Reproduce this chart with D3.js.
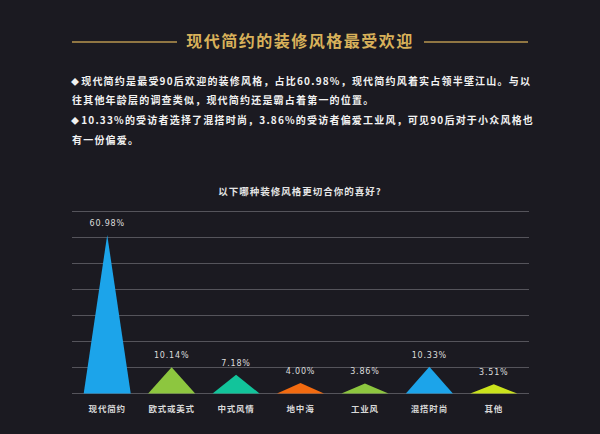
<!DOCTYPE html>
<html>
<head>
<meta charset="utf-8">
<script src="https://cdn.jsdelivr.net/npm/d3@7"></script>
<style>
  html, body { margin:0; padding:0; background:#1b1a21; }
  svg { display:block; }
</style>
</head>
<body>
<svg id="chart" width="600" height="434"></svg>
<script>
// data
var categories=["现代简约","欧式或美式","中式风情","地中海","工业风","混搭时尚","其他"];
var values=[60.98,10.14,7.18,4.00,3.86,10.33,3.51];
var barColors=["#1ca4ea","#8dc63f","#12c49b","#f26a10","#8dc63f","#1ca4ea","#cbe31c"];
var gridTicks=[0,10,20,30,40,50,60,70];

var title="现代简约的装修风格最受欢迎";
var paraLines=[
    {bullet:true, text:"现代简约是最受90后欢迎的装修风格，占比60.98%，现代简约风着实占领半壁江山。与以"},
    {bullet:false,text:"往其他年龄层的调查类似，现代简约还是霸占着第一的位置。"},
    {bullet:true, text:"10.33%的受访者选择了混搭时尚，3.86%的受访者偏爱工业风，可见90后对于小众风格也"},
    {bullet:false,text:"有一份偏爱。"}
];
var question="以下哪种装修风格更切合你的喜好?";

var svg=d3.select("#chart");
var fontCN="'Noto Sans CJK SC','Noto Sans',sans-serif";

svg.append("rect").attr("width",600).attr("height",434).attr("fill","#1b1a21");

// header
svg.append("text")
    .attr("x",300).attr("y",47)
    .style("fill","#d8b15a")
    .style("font-family",fontCN)
    .style("font-weight","bold")
    .style("font-size","16px")
    .style("letter-spacing","1.5px")
    .style("text-anchor","middle")
    .text(title);

svg.append("line").attr("x1",72).attr("x2",177).attr("y1",42).attr("y2",42)
    .attr("stroke","#b8964f").attr("stroke-width",1.3);
svg.append("line").attr("x1",424).attr("x2",528).attr("y1",42).attr("y2",42)
    .attr("stroke","#b8964f").attr("stroke-width",1.3);

// paragraph
for(var i=0; i < paraLines.length; i++ ){
    var yLine=84.5+i*19.8;
    var t=svg.append("text")
        .attr("x", paraLines[i].bullet ? 71 : 72)
        .attr("y", yLine)
        .style("fill","#f2f2f2")
        .style("font-family",fontCN)
        .style("font-weight","bold")
        .style("font-size","10px")
        .style("letter-spacing","1.2px");
    if(paraLines[i].bullet){
        t.append("tspan").style("font-size","8px").text("◆");
        t.append("tspan").attr("dx",1).text(paraLines[i].text);
    }else{
        t.text(paraLines[i].text);
    }
}

// chart title
svg.append("text")
    .attr("x",300).attr("y",194.5)
    .style("fill","#e6e6e6")
    .style("font-family",fontCN)
    .style("font-weight","bold")
    .style("font-size","9.5px")
    .style("letter-spacing","1px")
    .style("text-anchor","middle")
    .text(question);

// scales
var x=d3.scaleBand().domain(categories).range([75,526]).paddingInner(0.27).paddingOuter(0.135);
var y=d3.scaleLinear().domain([0,70]).range([393.5,211.5]);

// grid
svg.append("g").selectAll("line").data(gridTicks).enter().append("line")
    .attr("x1",72).attr("x2",529)
    .attr("y1",function(d){ return y(d); })
    .attr("y2",function(d){ return y(d); })
    .attr("stroke","#55545b").attr("stroke-width",1.2);

// triangles
svg.append("g").selectAll("path").data(values).enter().append("path")
    .attr("d",function(d,i){
        var x0=x(categories[i]), x1=x0+x.bandwidth(), xm=x0+x.bandwidth()/2;
        return "M"+x0+","+y(0)+"L"+xm+","+y(d)+"L"+x1+","+y(0)+"Z";
    })
    .attr("fill",function(d,i){ return barColors[i]; });

// value labels
svg.append("g").selectAll("text").data(values).enter().append("text")
    .attr("x",function(d,i){ return x(categories[i])+x.bandwidth()/2; })
    .attr("y",function(d){ return y(d)-9; })
    .style("fill","#dcdcdc")
    .style("font-family","'DejaVu Sans',sans-serif")
    .style("font-size","8px")
    .style("letter-spacing","0.8px")
    .style("text-anchor","middle")
    .text(function(d){ return d.toFixed(2)+"%"; });

// category labels
svg.append("g").selectAll("text").data(categories).enter().append("text")
    .attr("x",function(d){ return x(d)+x.bandwidth()/2; })
    .attr("y",412)
    .style("fill","#d8d8d8")
    .style("font-family",fontCN)
    .style("font-weight","bold")
    .style("font-size","8.5px")
    .style("letter-spacing","0.8px")
    .style("text-anchor","middle")
    .text(function(d){ return d; });
</script>
</body>
</html>
